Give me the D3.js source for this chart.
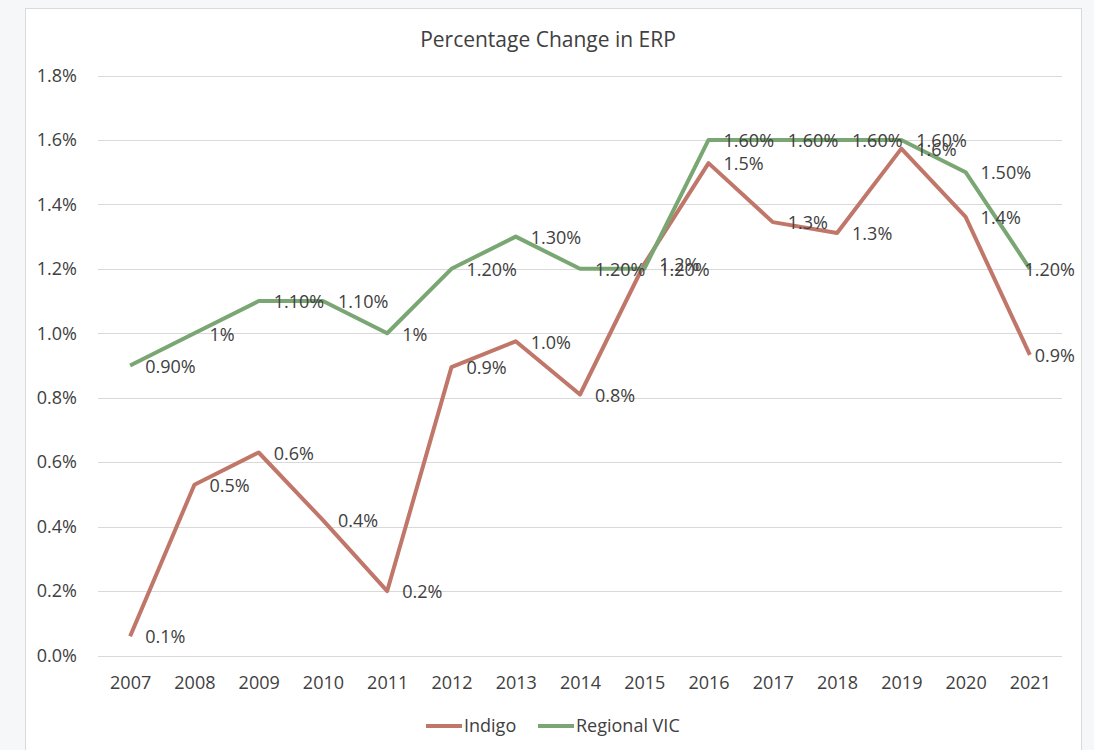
<!DOCTYPE html>
<html>
<head>
<meta charset="utf-8">
<script src="https://cdn.jsdelivr.net/npm/d3@7"></script>
<style>
  html, body { margin: 0; padding: 0; background: #f6f7f9; }
  svg { display: block; }
  text { font-family: "Open Sans", "Noto Sans", sans-serif; fill: #404040; }
</style>
</head>
<body>
<svg id="chart" width="1094" height="750"></svg>
<script>
const years = ["2007","2008","2009","2010","2011","2012","2013","2014","2015","2016","2017","2018","2019","2020","2021"];
const indigo = [0.06, 0.53, 0.63, 0.42, 0.20, 0.895, 0.975, 0.81, 1.215, 1.528, 1.345, 1.311, 1.573, 1.361, 0.933];
const regionalVIC = [0.9, 1.0, 1.1, 1.1, 1.0, 1.2, 1.3, 1.2, 1.2, 1.6, 1.6, 1.6, 1.6, 1.5, 1.2];
const yTicks = [0, 0.2, 0.4, 0.6, 0.8, 1.0, 1.2, 1.4, 1.6, 1.8];
const seriesNames = ["Indigo", "Regional VIC"];
const chartTitle = "Percentage Change in ERP";

const colors = { "Indigo": "#c0776a", "Regional VIC": "#7aa673" };
const svg = d3.select("#chart");

// chart frame
svg.append("rect").attr("x", 25.5).attr("y", 8.5).attr("width", 1056).attr("height", 760)
  .attr("fill", "#ffffff").attr("stroke", "#dadada").attr("stroke-width", 1);

const plotLeft = 98, plotRight = 1062, plotTop = 75.5, plotBottom = 655.5;
const x = d3.scalePoint().domain(years).range([plotLeft, plotRight]).padding(0.5);
const y = d3.scaleLinear().domain([0, 1.8]).range([plotBottom, plotTop]);

// gridlines
svg.append("g").selectAll("line").data(yTicks).join("line")
  .attr("x1", plotLeft).attr("x2", plotRight)
  .attr("y1", d => Math.round(y(d)) + 0.5).attr("y2", d => Math.round(y(d)) + 0.5)
  .attr("stroke", "#d9d9d9").attr("stroke-width", 1);

// y axis labels
const yAxis = d3.axisLeft(y).tickValues(yTicks).tickFormat(d => d.toFixed(1) + "%").tickSize(0).tickPadding(21);
const yg = svg.append("g").attr("transform", `translate(${plotLeft},0)`).call(yAxis);
yg.select(".domain").remove();
yg.selectAll("text").style("font-size", "18px").style("font-family", "'Open Sans', sans-serif").attr("fill", "#404040");

// x axis labels
const xAxis = d3.axisBottom(x).tickSize(0).tickPadding(21);
const xg = svg.append("g").attr("transform", `translate(0,${plotBottom})`).call(xAxis);
xg.select(".domain").remove();
xg.selectAll("text").style("font-size", "18px").style("font-family", "'Open Sans', sans-serif").attr("fill", "#404040");

// title
svg.append("text").attr("x", 548).attr("y", 47).attr("text-anchor", "middle")
  .style("font-size", "21px").text(chartTitle);

const line = d3.line().x((d, i) => x(years[i])).y(d => y(d));

const series = [
  { name: "Regional VIC", values: regionalVIC, fmt: v => (Math.abs(v - Math.round(v)) < 1e-9 ? v.toFixed(0) : v.toFixed(2)) + "%" },
  { name: "Indigo", values: indigo, fmt: v => v.toFixed(1) + "%" }
];

// lines: Indigo first, Regional VIC on top
seriesNames.forEach(name => {
  const s = series.find(d => d.name === name);
  svg.append("path").datum(s.values).attr("d", line)
    .attr("fill", "none").attr("stroke", colors[name]).attr("stroke-width", 4)
    .attr("stroke-linejoin", "round").attr("stroke-linecap", "butt");
});

// data labels
const labelRightLimit = 1075;
series.forEach(s => {
  const g = svg.append("g");
  s.values.forEach((v, i) => {
    const t = g.append("text").attr("y", y(v) + 1).attr("dy", "0.35em")
      .style("font-size", "18px").text(s.fmt(v));
    const w = t.node().getComputedTextLength();
    let lx = x(years[i]) + 15;
    if (lx + w > labelRightLimit) lx = labelRightLimit - w;
    t.attr("x", lx);
  });
});

// legend
const legendItems = [
  { name: "Indigo", x0: 426 },
  { name: "Regional VIC", x0: 538 }
];
const lg = svg.append("g");
legendItems.forEach(it => {
  lg.append("line").attr("x1", it.x0).attr("x2", it.x0 + 36).attr("y1", 726).attr("y2", 726)
    .attr("stroke", colors[it.name]).attr("stroke-width", 4);
  lg.append("text").attr("x", it.x0 + 38).attr("y", 726).attr("dy", "0.35em")
    .style("font-size", "18px").text(it.name);
});
</script>
</body>
</html>
